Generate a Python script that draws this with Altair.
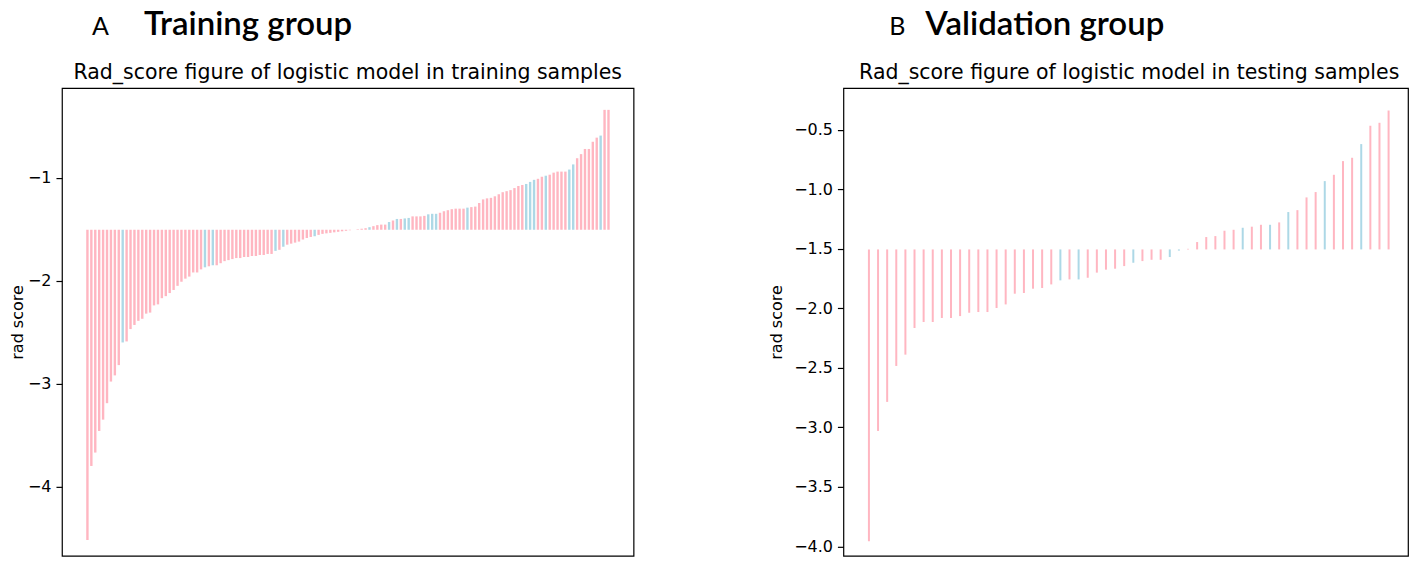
import altair as alt
import pandas as pd

THRESHOLD = -1.505

panel_letters = ["A", "B"]
group_names = ["Training group", "Validation group"]
panel_titles = [
    "Rad_score figure of logistic model in training samples",
    "Rad_score figure of logistic model in testing samples",
]

train_scores = [
    -4.52, -3.80, -3.67, -3.46, -3.35, -3.19, -2.98, -2.92, -2.82, -2.60,
    -2.59, -2.47, -2.43, -2.39, -2.37, -2.32, -2.31, -2.24, -2.23, -2.17,
    -2.15, -2.12, -2.09, -2.05, -2.01, -1.98, -1.96, -1.92, -1.92, -1.89,
    -1.87, -1.86, -1.85, -1.85, -1.83, -1.81, -1.80, -1.79, -1.78, -1.78,
    -1.77, -1.77, -1.76, -1.76, -1.75, -1.75, -1.74, -1.74, -1.71, -1.70,
    -1.67, -1.65, -1.64, -1.63, -1.62, -1.60, -1.585, -1.575, -1.568, -1.555,
    -1.545, -1.54, -1.535, -1.53, -1.525, -1.52, -1.515, -1.51, -1.505, -1.50,
    -1.495, -1.49, -1.48, -1.47, -1.46, -1.455, -1.455, -1.43, -1.415, -1.40,
    -1.40, -1.395, -1.39, -1.375, -1.375, -1.375, -1.37, -1.355, -1.35, -1.35,
    -1.34, -1.325, -1.315, -1.305, -1.30, -1.30, -1.30, -1.29, -1.285, -1.28,
    -1.245, -1.21, -1.20, -1.195, -1.18, -1.16, -1.14, -1.13, -1.12, -1.10,
    -1.08, -1.07, -1.06, -1.04, -1.02, -1.01, -0.99, -0.98, -0.97, -0.95,
    -0.94, -0.94, -0.94, -0.92, -0.87, -0.81, -0.77, -0.72, -0.72, -0.65,
    -0.61, -0.59, -0.34, -0.34,
]
train_labels = [
    0, 0, 0, 0, 0, 0, 0, 0, 0, 1,
    0, 0, 0, 0, 0, 0, 0, 0, 0, 0,
    0, 0, 0, 0, 0, 0, 0, 0, 0, 0,
    1, 0, 1, 0, 0, 0, 0, 0, 0, 0,
    0, 0, 0, 0, 0, 0, 0, 0, 1, 0,
    1, 0, 0, 0, 0, 0, 0, 0, 1, 0,
    0, 0, 0, 0, 0, 0, 0, 0, 0, 0,
    0, 0, 1, 0, 0, 0, 0, 1, 0, 1,
    0, 1, 1, 0, 0, 0, 0, 1, 1, 1,
    0, 0, 0, 0, 0, 0, 0, 1, 0, 0,
    0, 0, 0, 0, 0, 0, 0, 0, 0, 0,
    0, 0, 1, 1, 1, 0, 0, 1, 0, 0,
    0, 0, 0, 1, 1, 0, 0, 0, 0, 0,
    0, 1, 0, 0,
]

test_scores = [
    -3.957, -3.03, -2.786, -2.484, -2.389, -2.165, -2.115, -2.115, -2.081, -2.081,
    -2.065, -2.037, -2.031, -2.031, -1.997, -1.967, -1.877, -1.871, -1.835, -1.829,
    -1.799, -1.765, -1.757, -1.757, -1.743, -1.70, -1.675, -1.667, -1.645, -1.617,
    -1.603, -1.592, -1.592, -1.569, -1.515, -1.50, -1.443, -1.401, -1.393, -1.348,
    -1.34, -1.323, -1.314, -1.298, -1.298, -1.278, -1.191, -1.175, -1.068, -1.023,
    -0.931, -0.878, -0.763, -0.735, -0.62, -0.466, -0.441, -0.338,
]
test_labels = [
    0, 0, 0, 0, 0, 0, 0, 0, 0, 0,
    0, 0, 0, 0, 0, 0, 0, 0, 0, 0,
    0, 1, 0, 1, 0, 0, 0, 0, 0, 1,
    0, 0, 0, 1, 1, 0, 0, 0, 0, 0,
    0, 1, 0, 0, 1, 0, 1, 0, 0, 0,
    1, 0, 0, 0, 1, 0, 0, 0,
]

PINK = "#ffb6c1"
BLUE = "#add8e6"
H = 468


def panel(i, scores, labels, width, xdom, ydom, ticks, fmt, sw, tpad, letter_x, sub_x):
    df = pd.DataFrame({
        "idx": list(range(len(scores))),
        "score": scores,
        "base": [THRESHOLD] * len(scores),
        "cls": labels,
    })
    rules = alt.Chart(df).mark_rule(strokeWidth=sw).encode(
        x=alt.X("idx:Q", scale=alt.Scale(domain=xdom, nice=False, zero=False), axis=None),
        y=alt.Y(
            "score:Q",
            scale=alt.Scale(domain=ydom, nice=False, zero=False),
            axis=alt.Axis(values=ticks, format=fmt, title="rad score", grid=False,
                          domain=False, titlePadding=tpad, titleFontSize=16),
        ),
        y2="base:Q",
        color=alt.Color("cls:N", scale=alt.Scale(domain=[0, 1], range=[PINK, BLUE]), legend=None),
    )
    hd = pd.DataFrame({"letter": [panel_letters[i]], "name": [group_names[i]],
                       "sub": [panel_titles[i]]})
    letter = alt.Chart(hd).mark_text(
        font="Lato", fontSize=25, align="left", baseline="alphabetic", color="black"
    ).encode(x=alt.value(letter_x), y=alt.value(-53), text="letter:N")
    name = alt.Chart(hd).mark_text(
        font="Lato", fontSize=33, fontWeight=600, align="left", baseline="alphabetic", color="black"
    ).encode(x=alt.value(82), y=alt.value(-53), text="name:N")
    sub = alt.Chart(hd).mark_text(
        font="DejaVu Sans", fontSize=20.5, align="center", baseline="alphabetic", color="black"
    ).encode(x=alt.value(sub_x), y=alt.value(-9), text="sub:N")
    return alt.layer(rules, letter, name, sub).properties(width=width, height=H)


left = panel(0, train_scores, train_labels, 572, [-6.5, 139.4], [-4.673, -0.129],
             [-4, -3, -2, -1], "d", 2.4, 2, 30, 286)
right = panel(1, test_scores, test_labels, 565, [-2.8, 59.13], [-4.079, -0.15],
              [-4.0, -3.5, -3.0, -2.5, -2.0, -1.5, -1.0, -0.5], ".1f", 2.0, 9, 46, 286)

chart = alt.hconcat(left, right, spacing=133).properties(
    padding=0, background="white"
).configure_view(stroke="black", strokeWidth=1.2).configure_axis(
    labelFont="DejaVu Sans", labelFontSize=16, labelColor="black",
    titleFont="DejaVu Sans", titleFontSize=16, titleFontWeight="normal", titleColor="black",
    tickColor="black", tickSize=6, tickWidth=1.2, labelPadding=5,
)

chart.save("out.html", embed_options={"renderer": "svg", "actions": False})
